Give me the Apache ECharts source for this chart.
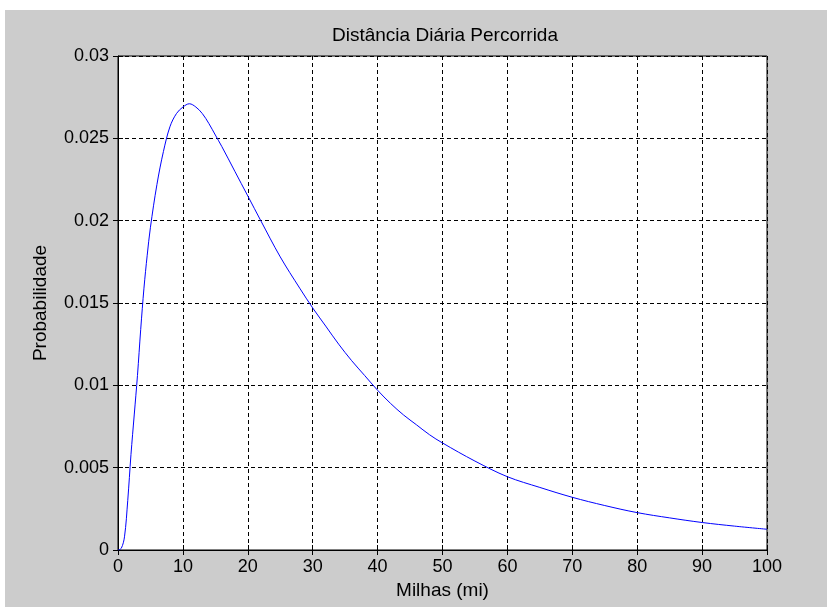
<!DOCTYPE html>
<html>
<head>
<meta charset="utf-8">
<script src="https://cdn.jsdelivr.net/npm/echarts@6/dist/echarts.min.js"></script>
<style>
html,body{margin:0;padding:0;background:#fff;}
#chart{width:827px;height:607px;}
</style>
</head>
<body>
<div id="chart"></div>
<script>
// valores
var milhas = [0, 0.5, 1, 1.5, 2, 2.5, 3, 3.5, 4, 4.5, 5, 6, 7, 8, 9, 10, 11, 12, 13, 14, 15, 16, 18, 20, 22, 25, 28, 30, 32, 34, 36, 38, 40, 42, 44, 46, 48, 50, 55, 60, 65, 70, 75, 80, 85, 90, 95, 100];
var probabilidade = [0, 0.0001, 0.0008, 0.003, 0.0058, 0.0082, 0.0106, 0.0134, 0.0159, 0.0179, 0.0196, 0.0222, 0.0242, 0.0257, 0.0265, 0.0269, 0.0271, 0.0269, 0.0265, 0.0259, 0.0252, 0.0245, 0.0230, 0.0215, 0.0200, 0.0178, 0.0159, 0.0147, 0.0136, 0.0125, 0.0115, 0.0106, 0.0097, 0.0089, 0.0082, 0.0076, 0.0070, 0.0065, 0.0054, 0.00445, 0.0038, 0.0032, 0.0027, 0.00227, 0.00195, 0.00167, 0.00145, 0.00126];
var xTicks = [0, 10, 20, 30, 40, 50, 60, 70, 80, 90, 100];
var yTicks = [0, 0.005, 0.01, 0.015, 0.02, 0.025, 0.03];

var pontos = [];
for (var i = 0; i < milhas.length; i++) {
	pontos.push([milhas[i], probabilidade[i]]);
}

var fonte = 'Arial, "Liberation Sans", sans-serif';
var grade = {show: true, lineStyle: {color: '#000', type: [4, 3], width: 1}};
var tick = {show: true, inside: true, length: 5, lineStyle: {color: '#000'}};

var chart = echarts.init(document.getElementById('chart'));
chart.setOption({
	backgroundColor: '#fff',
	animation: false,
	graphic: [{
		type: 'rect', z: -10, silent: true,
		shape: {x: 5, y: 10, width: 822, height: 597},
		style: {fill: '#cccccc'}
	}],
	title: {
		text: 'Distância Diária Percorrida',
		left: 440, top: 21, textAlign: 'center',
		textStyle: {fontFamily: fonte, fontSize: 19, fontWeight: 'normal', color: '#000'}
	},
	grid: {
		left: 118, top: 56, right: 60, bottom: 57,
		show: true, backgroundColor: '#fff', borderColor: '#000', borderWidth: 1
	},
	xAxis: [{
		type: 'value', min: xTicks[0], max: xTicks[xTicks.length - 1], interval: 10,
		name: 'Milhas (mi)', nameLocation: 'middle', nameGap: 30,
		nameTextStyle: {fontFamily: fonte, fontSize: 19, color: '#000'},
		axisLine: {show: true, lineStyle: {color: '#000'}},
		axisTick: tick,
		axisLabel: {fontFamily: fonte, fontSize: 18, color: '#000', margin: 8},
		splitLine: grade
	}, {
		type: 'value', position: 'top', min: 0, max: 100, interval: 10,
		axisLine: {show: false}, axisTick: tick,
		axisLabel: {show: false}, splitLine: {show: false}
	}],
	yAxis: [{
		type: 'value', min: yTicks[0], max: yTicks[yTicks.length - 1], interval: 0.005,
		name: 'Probabilidade', nameLocation: 'middle', nameGap: 68,
		nameTextStyle: {fontFamily: fonte, fontSize: 19, color: '#000'},
		axisLine: {show: true, lineStyle: {color: '#000'}},
		axisTick: tick,
		axisLabel: {fontFamily: fonte, fontSize: 18, color: '#000', margin: 9,
			formatter: function (v) { return String(+v.toFixed(3)); }},
		splitLine: grade
	}, {
		type: 'value', position: 'right', min: 0, max: 0.03, interval: 0.005,
		axisLine: {show: false}, axisTick: tick,
		axisLabel: {show: false}, splitLine: {show: false}
	}],
	series: [{
		type: 'line',
		data: pontos,
		smooth: 0.35,
		showSymbol: false,
		lineStyle: {color: '#0000ff', width: 1},
		z: 5
	}]
});
</script>
</body>
</html>
